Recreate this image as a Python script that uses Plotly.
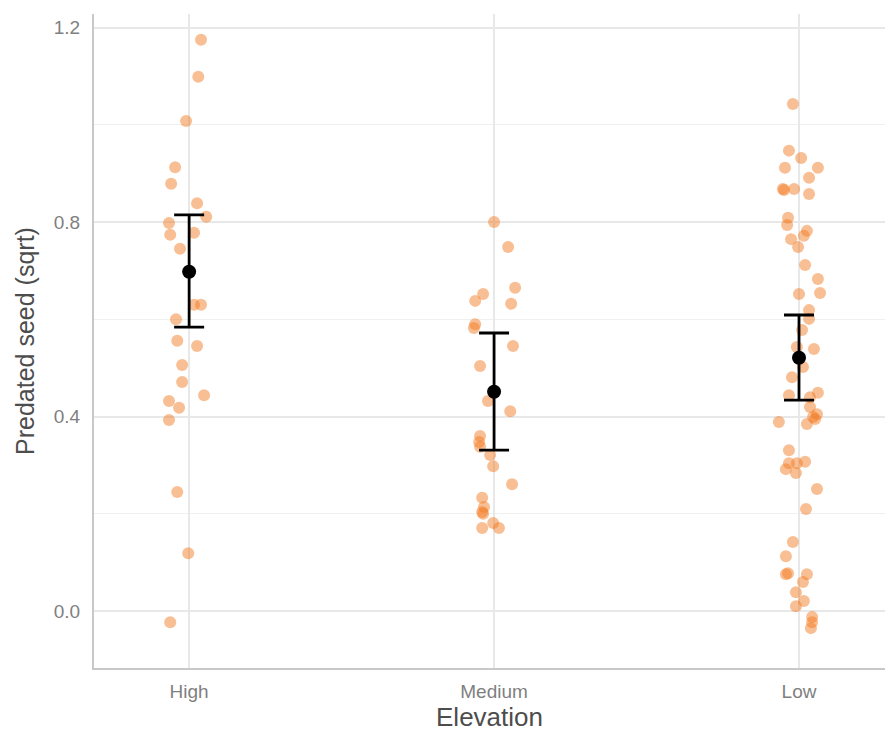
import plotly.graph_objects as go

categories = ["High", "Medium", "Low"]

# jitter offsets (category units) and values
high_jit = [0.039, 0.030, -0.010, -0.046, -0.059, 0.026, 0.056, -0.066, -0.062, 0.016, -0.030,
            0.016, 0.039, -0.043, -0.039, 0.026, -0.023, -0.023, 0.049, -0.066, -0.033, -0.066,
            -0.039, -0.003, -0.062]
high_val = [1.175, 1.099, 1.008, 0.913, 0.879, 0.839, 0.811, 0.798, 0.774, 0.778, 0.745,
            0.630, 0.630, 0.600, 0.556, 0.545, 0.506, 0.471, 0.444, 0.432, 0.418, 0.393,
            0.245, 0.119, -0.023]

med_jit = [0.0, 0.046, 0.069, -0.036, -0.062, 0.056, -0.062, -0.066, 0.062, -0.046, -0.020,
           0.053, -0.046, -0.049, -0.046, -0.013, -0.003, 0.059, -0.039, -0.033, -0.039,
           -0.036, -0.003, -0.039, 0.016]
med_val = [0.800, 0.749, 0.665, 0.652, 0.638, 0.632, 0.590, 0.582, 0.545, 0.504, 0.432,
           0.411, 0.360, 0.348, 0.338, 0.321, 0.298, 0.261, 0.233, 0.214, 0.204, 0.200,
           0.181, 0.171, 0.171]

low_jit = [-0.020, -0.033, 0.007, -0.046, 0.062, 0.033, -0.053, -0.049, -0.016, 0.033, -0.036,
           -0.039, 0.026, -0.026, 0.016, -0.003, 0.020, 0.062, 0.0, 0.069, 0.033, 0.033,
           0.010, -0.007, 0.049, 0.013, -0.023, -0.033, 0.062, 0.036, 0.036, 0.059, 0.046,
           -0.066, 0.026, 0.053, -0.033, -0.033, -0.007, 0.020, -0.043, -0.010, 0.059, 0.023,
           -0.020, -0.043, -0.043, -0.036, 0.026, 0.013, -0.010, 0.016, -0.010, 0.043, 0.043,
           0.039]
low_val = [1.043, 0.947, 0.932, 0.912, 0.912, 0.891, 0.868, 0.866, 0.868, 0.858, 0.809,
           0.794, 0.782, 0.765, 0.772, 0.749, 0.712, 0.683, 0.652, 0.654, 0.619, 0.601,
           0.578, 0.543, 0.539, 0.502, 0.481, 0.444, 0.449, 0.440, 0.420, 0.405, 0.399,
           0.389, 0.385, 0.395, 0.331, 0.304, 0.304, 0.307, 0.292, 0.284, 0.251, 0.210,
           0.142, 0.113, 0.076, 0.078, 0.076, 0.060, 0.039, 0.021, 0.010, -0.012, -0.023,
           -0.035]

means = [0.698, 0.451, 0.521]
upper = [0.815, 0.572, 0.609]
lower = [0.584, 0.331, 0.434]

y_ticks = [0.0, 0.4, 0.8, 1.2]
y_tick_labels = ["0.0", "0.4", "0.8", "1.2"]

fig = go.Figure()

groups = [(0, high_jit, high_val), (1, med_jit, med_val), (2, low_jit, low_val)]
for pos, jit, vals in groups:
    fig.add_trace(go.Scatter(
        x=[pos + j for j in jit], y=vals, mode="markers",
        marker=dict(size=12, color="rgba(243,122,32,0.48)", line=dict(width=0)),
        showlegend=False, hoverinfo="y"))

fig.add_trace(go.Scatter(
    x=[0, 1, 2], y=means, mode="markers",
    marker=dict(size=14, color="black"),
    error_y=dict(type="data", symmetric=False,
                 array=[u - m for u, m in zip(upper, means)],
                 arrayminus=[m - l for m, l in zip(means, lower)],
                 color="black", thickness=2.8, width=15),
    showlegend=False))

fig.update_layout(
    width=885, height=736,
    margin=dict(l=94, r=0, t=14, b=68),
    paper_bgcolor="white", plot_bgcolor="white",
    font=dict(family="Liberation Sans, Arial, sans-serif"),
    xaxis=dict(
        range=[-0.312, 2.282], tickmode="array", tickvals=[0, 1, 2], ticktext=categories,
        showgrid=True, gridcolor="#E8E8E8", gridwidth=1.6, zeroline=False,
        showline=True, linecolor="#C8C8C8", linewidth=2,
        ticks="outside", ticklen=5, tickcolor="rgba(0,0,0,0)",
        tickfont=dict(size=19, color="#7F7F7F"),
        title=dict(text="Elevation", font=dict(size=26, color="#4D4D4D"), standoff=6)),
    yaxis=dict(
        range=[-0.117, 1.228], tickmode="array", tickvals=y_ticks, ticktext=y_tick_labels,
        showgrid=True, gridcolor="#E8E8E8", gridwidth=1.6, zeroline=False,
        showline=True, linecolor="#C8C8C8", linewidth=2,
        ticks="outside", ticklen=8, tickcolor="rgba(0,0,0,0)",
        tickfont=dict(size=19, color="#7F7F7F"),
        minor=dict(tickvals=[0.2, 0.6, 1.0], showgrid=True, gridcolor="#F0F0F0", gridwidth=1.3),
        title=dict(text="Predated seed (sqrt)", font=dict(size=25, color="#4D4D4D"), standoff=12)),
)

fig.write_html("out.html")
